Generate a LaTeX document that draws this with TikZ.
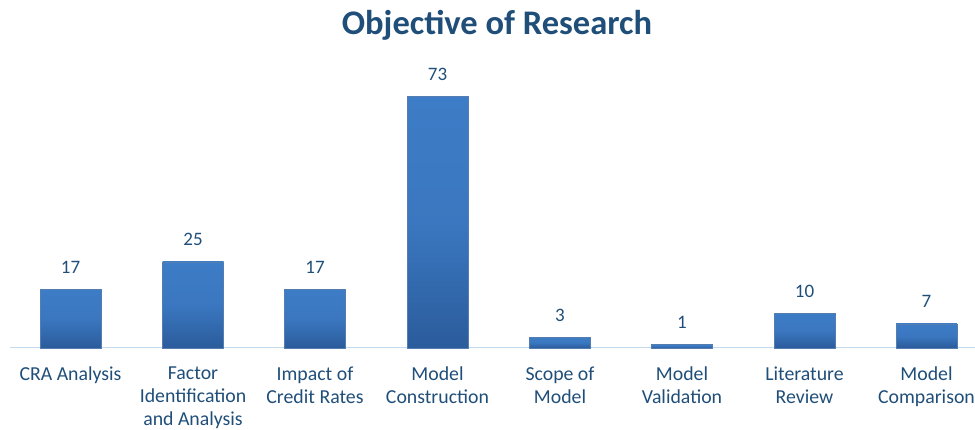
\documentclass[tikz,border=0pt]{standalone}
\usepackage{fontspec}
\setmainfont{Carlito}
\usetikzlibrary{positioning}
\definecolor{txtblue}{HTML}{1F4E79}
\definecolor{bartop}{HTML}{3D7CC6}
\definecolor{barbot}{HTML}{2B5C9C}
\definecolor{axisblue}{HTML}{C5DBF0}
\tikzset{
  bar/.style={draw=barbot!80, line width=0.4pt, top color=bartop, bottom color=barbot,
    middle color=bartop!85!barbot, minimum width=61pt, inner sep=0pt, anchor=south},
  val/.style={text=txtblue, font=\fontsize{19}{23}\selectfont, inner sep=0pt, anchor=base},
  cat/.style={text=txtblue, font=\fontsize{19.8}{23}\selectfont, align=center, inner sep=0pt, anchor=north},
}
\begin{document}
\begin{tikzpicture}[x=1pt,y=1pt]
			\useasboundingbox (0,0) rectangle (975,430);

			\node[text=txtblue, font=\fontsize{34.5}{40}\selectfont\bfseries, anchor=base] (title) at (497,395) {Objective of Research};

			% axis
			\coordinate (axl) at (10,82);
			\coordinate (axr) at (975,82);
			\draw[axisblue, line width=1pt] (axl) -- (axr);

			% bars
			\foreach \i/\x/\v/\lab in {1/70.5/17/CRA Analysis,
				2/193/25/Factor\\Identification\\and Analysis,
				3/315/17/Impact of\\Credit Rates,
				4/437.5/73/Model\\Construction,
				5/560/3/Scope of\\Model,
				6/682/1/Model\\Validation,
				7/804.5/10/Literature\\Review,
				8/926.5/7/Model\\Comparison} {
				\node[bar, minimum height=\v*3.44pt] (bar\i) at (\x,82) {};
				\node[val] (val\i) at ([yshift=16pt]bar\i.north) {\v};
				\node[cat] (cat\i) at (\x,63) {\lab};
			}
		\end{tikzpicture}
\end{document}
